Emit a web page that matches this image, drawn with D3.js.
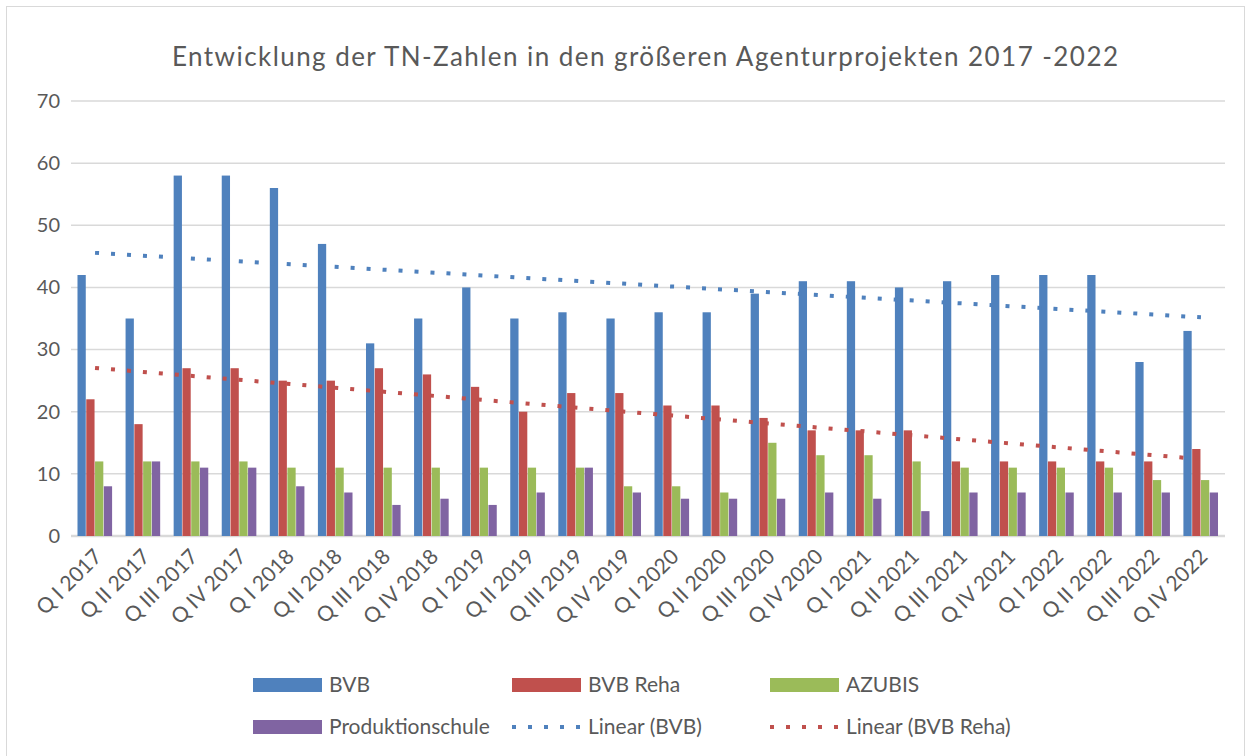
<!DOCTYPE html>
<html>
<head>
<meta charset="utf-8">
<script src="https://cdn.jsdelivr.net/npm/d3@7"></script>
<style>
  body { margin: 0; background: #fff; }
  svg text { font-family: Lato, "Open Sans", sans-serif; fill: #595959; }
</style>
</head>
<body>
<svg></svg>
<script>
var categories = ['Q I 2017','Q II 2017','Q III 2017','Q IV 2017',
                  'Q I 2018','Q II 2018','Q III 2018','Q IV 2018',
                  'Q I 2019','Q II 2019','Q III 2019','Q IV 2019',
                  'Q I 2020','Q II 2020','Q III 2020','Q IV 2020',
                  'Q I 2021','Q II 2021','Q III 2021','Q IV 2021',
                  'Q I 2022','Q II 2022','Q III 2022','Q IV 2022'];
var bvb      = [42,35,58,58,56,47,31,35,40,35,36,35,36,36,39,41,41,40,41,42,42,42,28,33];
var bvbReha  = [22,18,27,27,25,25,27,26,24,20,23,23,21,21,19,17,17,17,12,12,12,12,12,14];
var azubis   = [12,12,12,12,11,11,11,11,11,11,11,8,8,7,15,13,13,12,11,11,11,11,9,9];
var produktionschule = [8,12,11,11,8,7,5,6,5,7,11,7,6,6,6,7,6,4,7,7,7,7,7,7];
var seriesNames = ['BVB','BVB Reha','AZUBIS','Produktionschule'];
var yTicks = [0,10,20,30,40,50,60,70];

var w = 1251;
var h = 756;
var colors = ['#4f81bd','#c0504d','#9bbb59','#8064a2'];
var seriesData = [bvb, bvbReha, azubis, produktionschule];

var svg = d3.select('svg')
            .attr('width', w)
            .attr('height', h);

// chart border
svg.append('rect')
   .attr('x', 6.5).attr('y', 6.5)
   .attr('width', 1238).attr('height', 770)
   .attr('fill', 'none')
   .attr('stroke', '#d9d9d9');

svg.append('text')
   .attr('x', 645).attr('y', 66)
   .attr('text-anchor', 'middle')
   .attr('textLength', 946)
   .attr('lengthAdjust', 'spacing')
   .style('font-size', '26px')
   .text('Entwicklung der TN-Zahlen in den größeren Agenturprojekten 2017 -2022');

var x = d3.scaleBand()
          .domain(categories)
          .range([71, 1225])
          .paddingInner(0.27)
          .paddingOuter(0.135);

var x1 = d3.scaleBand()
           .domain(seriesNames)
           .range([0, x.bandwidth()]);

var y = d3.scaleLinear()
          .domain([0, 70])
          .range([536, 101]);

// gridlines
svg.append('g')
   .selectAll('line')
   .data(yTicks)
   .enter()
   .append('line')
   .attr('x1', 71).attr('x2', 1225)
   .attr('y1', function(d){ return y(d); })
   .attr('y2', function(d){ return y(d); })
   .attr('stroke', '#d9d9d9')
   .attr('stroke-width', function(d){ return d == 0 ? 2.5 : 1.5; });

// y axis labels
var yAxis = d3.axisLeft(y).tickValues(yTicks).tickSize(0).tickPadding(0);
var yg = svg.append('g')
            .attr('transform', 'translate(60,0)')
            .call(yAxis);
yg.select('.domain').remove();
yg.selectAll('text')
  .style('font-size', '20px')
  .attr('font-family', null);

// bars
var groups = svg.append('g')
                .selectAll('g')
                .data(seriesData)
                .enter()
                .append('g')
                .attr('fill', function(d, i){ return colors[i]; });

groups.selectAll('rect')
      .data(function(d, i){
        return d.map(function(v, j){ return {s: seriesNames[i], c: categories[j], v: v}; });
      })
      .enter()
      .append('rect')
      .attr('x', function(d){ return x(d.c) + x1(d.s); })
      .attr('y', function(d){ return y(d.v); })
      .attr('width', x1.bandwidth() - 0.5)
      .attr('height', function(d){ return y(0) - y(d.v); });

// linear trend lines (least squares, as the spreadsheet does)
var trend = function(vals){
  var n = vals.length;
  var mx = d3.mean(vals, function(v, i){ return i + 1; });
  var my = d3.mean(vals);
  var num = 0, den = 0;
  vals.forEach(function(v, i){
    num += (i + 1 - mx) * (v - my);
    den += (i + 1 - mx) * (i + 1 - mx);
  });
  var b = num / den;
  var a = my - b * mx;
  return [[categories[0], a + b * 1], [categories[n - 1], a + b * n]];
};

var line = d3.line()
             .x(function(d){ return x(d[0]) + x.bandwidth() / 2; })
             .y(function(d){ return y(d[1]); });

[bvb, bvbReha].forEach(function(vals, i){
  svg.append('path')
     .attr('d', line(trend(vals)))
     .attr('fill', 'none')
     .attr('stroke', colors[i])
     .attr('stroke-width', 4)
     .attr('stroke-dasharray', '4,12');
});

// x labels
svg.append('g')
   .selectAll('text')
   .data(categories)
   .enter()
   .append('text')
   .attr('transform', function(d){
     return 'translate(' + (x(d) + x.bandwidth() / 2 + 8) + ',558) rotate(-45)';
   })
   .attr('text-anchor', 'end')
   .style('font-size', '21px')
   .text(function(d){ return d; });

// legend
var legendItems = [
  {name: 'BVB', color: colors[0], type: 'bar'},
  {name: 'BVB Reha', color: colors[1], type: 'bar'},
  {name: 'AZUBIS', color: colors[2], type: 'bar'},
  {name: 'Produktionschule', color: colors[3], type: 'bar'},
  {name: 'Linear (BVB)', color: colors[0], type: 'line'},
  {name: 'Linear (BVB Reha)', color: colors[1], type: 'line'}
];
var colX = [253, 512, 770];
var rowY = [685, 727];

var legend = svg.append('g')
                .selectAll('g')
                .data(legendItems)
                .enter()
                .append('g')
                .attr('transform', function(d, i){
                  return 'translate(' + colX[i % 3] + ',' + rowY[Math.floor(i / 3)] + ')';
                });

legend.filter(function(d){ return d.type == 'bar'; })
      .append('rect')
      .attr('x', 0).attr('y', -7)
      .attr('width', 69).attr('height', 14)
      .attr('fill', function(d){ return d.color; });

legend.filter(function(d){ return d.type == 'line'; })
      .append('line')
      .attr('x1', 0).attr('x2', 69)
      .attr('y1', 0).attr('y2', 0)
      .attr('stroke', function(d){ return d.color; })
      .attr('stroke-width', 4)
      .attr('stroke-dasharray', '4,12');

legend.append('text')
      .attr('x', 76).attr('y', 0)
      .attr('dy', '0.35em')
      .style('font-size', '21px')
      .text(function(d){ return d.name; });
</script>
</body>
</html>
